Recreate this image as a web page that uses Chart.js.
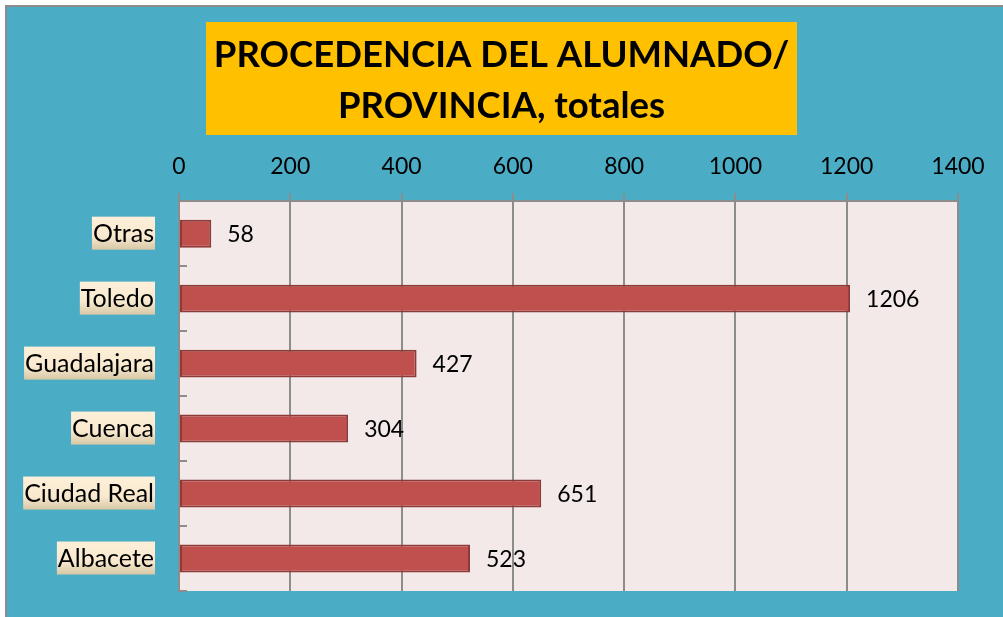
<!DOCTYPE html>
<html>
<head>
<meta charset="utf-8">
<script src="https://cdn.jsdelivr.net/npm/chart.js@4.4.1/dist/chart.umd.min.js"></script>
<style>
  html, body { margin: 0; padding: 0; background: #ffffff; }
  #wrap { width: 1003px; height: 617px; }
</style>
</head>
<body>
<div id="wrap"><canvas id="chart" width="1003" height="617"></canvas></div>
<script>
// Chart data
const provincias = ['Otras', 'Toledo', 'Guadalajara', 'Cuenca', 'Ciudad Real', 'Albacete'];
const alumnos = [58, 1206, 427, 304, 651, 523];
const titleLines = ['PROCEDENCIA DEL ALUMNADO/', 'PROVINCIA, totales'];
const xTicks = [0, 200, 400, 600, 800, 1000, 1200, 1400];

const catFont = '25px Lato';
const valueFont = '23px Lato';

// background, title box, plot area and label boxes
const backdrop = {
    id: 'backdrop',
    afterLayout(chart) {
        // centre the title on the whole canvas, not on the padded box
        if (chart.titleBlock) {
            chart.titleBlock.left = 0;
            chart.titleBlock.right = chart.width;
        }
    },
    beforeDraw(chart) {
        const ctx = chart.ctx;
        const area = chart.chartArea;
        ctx.save();
        ctx.fillStyle = '#ffffff';
        ctx.fillRect(0, 0, chart.width, chart.height);
        ctx.fillStyle = '#8c8c8c';
        ctx.fillRect(5, 5, chart.width, chart.height);
        ctx.fillStyle = '#4bacc6';
        ctx.fillRect(7, 7, chart.width, chart.height);

        // yellow title box
        ctx.fillStyle = '#ffc000';
        ctx.fillRect(206, 22, 591, 113);

        // plot background
        ctx.fillStyle = '#f2e9e8';
        ctx.fillRect(area.left, area.top, area.right - area.left, area.bottom - area.top);

        // cream boxes behind category labels
        const y = chart.scales.y;
        ctx.font = catFont;
        const right = y.right - y.options.ticks.padding + 1;
        provincias.forEach((name, i) => {
            const cy = y.getPixelForTick(i) - 1;
            const w = ctx.measureText(name).width + 2;
            const g = ctx.createLinearGradient(0, cy - 16, 0, cy + 17);
            g.addColorStop(0, '#fdefd9');
            g.addColorStop(0.6, '#f9e9cf');
            g.addColorStop(1, '#d6c8a6');
            ctx.fillStyle = g;
            ctx.fillRect(right - w, cy - 16, w, 33);
        });
        ctx.restore();
    },
    afterDatasetsDraw(chart) {
        const ctx = chart.ctx;
        const area = chart.chartArea;
        const y = chart.scales.y;
        ctx.save();
        // small inside ticks between categories
        ctx.strokeStyle = '#8c8c8c';
        ctx.lineWidth = 2;
        for (let i = 0; i < provincias.length; i++) {
            const py = i < provincias.length - 1
                ? (y.getPixelForTick(i) + y.getPixelForTick(i + 1)) / 2
                : area.bottom;
            ctx.beginPath();
            ctx.moveTo(area.left, Math.round(py));
            ctx.lineTo(area.left + 8, Math.round(py));
            ctx.stroke();
        }
        // value labels
        ctx.fillStyle = '#000000';
        ctx.font = valueFont;
        ctx.textAlign = 'left';
        ctx.textBaseline = 'middle';
        chart.getDatasetMeta(0).data.forEach((bar, i) => {
            ctx.fillText(String(alumnos[i]), bar.x + 16, bar.y + 1);
        });
        ctx.restore();
    }
};

new Chart(document.getElementById('chart'), {
    type: 'bar',
    data: {
        labels: provincias,
        datasets: [{
            data: alumnos,
            backgroundColor: '#c0504d',
            borderColor: '#8e3a38',
            borderWidth: 2,
            borderSkipped: false,
            categoryPercentage: 1,
            barPercentage: 0.43
        }]
    },
    options: {
        indexAxis: 'y',
        responsive: false,
        animation: false,
        layout: { padding: { left: 0, right: 45, top: 0, bottom: 26 } },
        plugins: {
            legend: { display: false },
            tooltip: { enabled: false },
            title: {
                display: true,
                text: titleLines,
                color: '#000000',
                font: { family: 'Lato', size: 36.5, weight: 'bold', lineHeight: 1.4 },
                padding: { top: 30, bottom: 0 }
            }
        },
        scales: {
            x: {
                type: 'linear',
                position: 'top',
                min: 0,
                max: 1400,
                afterBuildTicks(scale) {
                    scale.ticks = xTicks.map(v => ({ value: v }));
                },
                afterFit(scale) { scale.height = 69; },
                ticks: {
                    color: '#000000',
                    font: { family: 'Lato', size: 23 },
                    padding: 13,
                    maxRotation: 0,
                    callback: v => String(v)
                },
                grid: { color: '#8c8c8c', lineWidth: 2, tickLength: 8 },
                border: { color: '#8c8c8c', width: 2 }
            },
            y: {
                type: 'category',
                afterFit(scale) {
                    scale.width = 179;
                    scale.paddingTop = 0;
                    scale.paddingBottom = 0;
                },
                ticks: {
                    color: '#000000',
                    font: { family: 'Lato', size: 25 },
                    padding: 25,
                    autoSkip: false
                },
                grid: { drawOnChartArea: false, drawTicks: false },
                border: { color: '#8c8c8c', width: 2 }
            }
        }
    },
    plugins: [backdrop]
});
</script>
</body>
</html>
